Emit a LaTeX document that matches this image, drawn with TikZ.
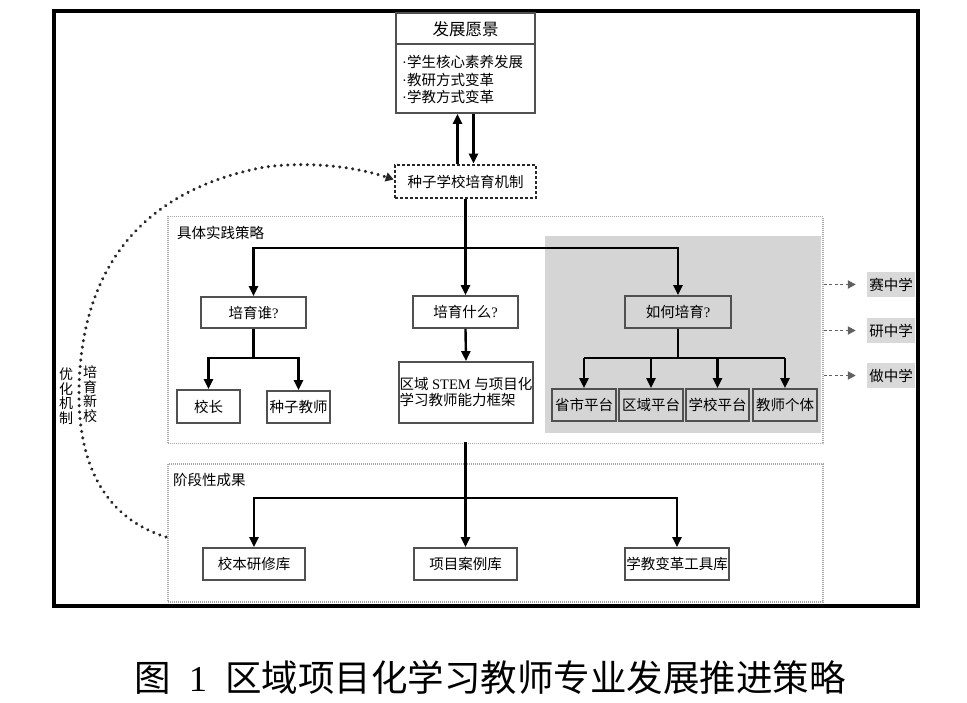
\documentclass[tikz,border=0pt]{standalone}
\usepackage{fontspec}
\setmainfont{Noto Sans CJK SC}
\newfontfamily\lat{Liberation Serif}
\usetikzlibrary{arrows.meta,calc}
\definecolor{boxc}{HTML}{505050}
\definecolor{grayfill}{HTML}{D5D5D5}
\definecolor{secc}{HTML}{A8A8A8}
\definecolor{labfill}{HTML}{D9D9D9}
\begin{document}
\begin{tikzpicture}[x=1pt,y=-1pt,
  box/.style={draw=boxc,line width=1.8pt,rectangle,inner sep=0pt,font=\fontsize{14.5}{16}\selectfont},
  arr/.style={line width=2.4pt,-{Triangle[width=9pt,length=10pt]}},
  plain/.style={line width=2.4pt},
  secbox/.style={draw=secc,line width=1.6pt,dash pattern=on 1pt off 1pt,rectangle,inner sep=0pt},
  seclab/.style={anchor=west,inner sep=0pt,font=\fontsize{14.5}{16}\selectfont},
  lab/.style={fill=labfill,rectangle,inner sep=0pt,minimum width=48pt,minimum height=25pt,font=\fontsize{14.5}{16}\selectfont},
  garr/.style={line width=1.8pt,draw=gray!75!black,dash pattern=on 3pt off 2.5pt,-{Triangle[width=8pt,length=8pt,fill=gray!75!black]}},
  dotline/.style={line width=3.4pt,draw=black!85,dash pattern=on 0.01pt off 6.5pt,line cap=round,-{Triangle[width=9pt,length=8pt,fill=black!85]}},
  vtext/.style={align=center,inner sep=0pt,font=\fontsize{14}{14.5}\selectfont}
]
\useasboundingbox (0,0) rectangle (967,702);
\fill[white] (0,0) rectangle (967,702);
% outer frame
\draw[line width=3.2pt] (54,11) rectangle (918,606);

% top box
\node[box,minimum width=139pt,minimum height=100pt] (top) at (465.5,63) {};
\coordinate (dv) at (0,44);
\draw[boxc,line width=1.8pt] (top.west |- dv) -- (top.east |- dv);
\node[inner sep=0pt,font=\fontsize{16.5}{16}\selectfont] (title) at (465.5,29.5) {发展愿景};
\node[anchor=west,align=left,inner sep=0pt,font=\fontsize{14.5}{17.5}\selectfont] (bul) at (402,79.5)
  {{\lat·}学生核心素养发展\\{\lat·}教研方式变革\\{\lat·}学教方式变革};

% seed box
\node[rectangle,draw=black!85,line width=2.6pt,dash pattern=on 3pt off 2pt,inner sep=0pt,
  minimum width=141pt,minimum height=33pt,font=\fontsize{14.5}{16}\selectfont] (seed) at (465.5,181.5) {种子学校培育机制};
\draw[arr] ([xshift=-8pt]seed.north) -- ([xshift=-8pt]top.south);
\draw[arr] ([xshift=8pt]top.south) -- ([xshift=8pt]seed.north);

% section 1
\node[secbox,minimum width=655pt,minimum height=227pt] (sec1) at (495.5,330) {};
\fill[grayfill] (545,236) rectangle (821,433);
\node[seclab] (sec1lab) at (177,232.5) {具体实践策略};

\node[box,minimum width=105pt,minimum height=31pt] (who) at (253.5,312.5) {培育谁{\lat ?}};
\node[box,minimum width=105pt,minimum height=32pt] (what) at (465.5,312) {培育什么{\lat ?}};
\node[box,minimum width=106pt,minimum height=32pt] (how) at (678,312) {如何培育{\lat ?}};

\coordinate (j1) at (465.5,248);
\draw[arr] (seed.south) -- (what.north);
\draw[arr] (j1) -| (who.north);
\draw[arr] (j1) -| (how.north);

\node[box,minimum width=63pt,minimum height=33pt] (xz) at (208.5,406.5) {校长};
\node[box,minimum width=63pt,minimum height=32pt] (zzjs) at (298.5,407) {种子教师};
\coordinate (j2) at (253.5,358);
\draw[plain] (who.south) -- (j2);
\draw[arr] (j2) -| (xz.north);
\draw[arr] (j2) -| (zzjs.north);

\node[box,minimum width=134pt,minimum height=61pt,align=left] (stem) at (466,392.5)
  {区域{\lat\ STEM\ }与项目化\\学习教师能力框架};
\draw[arr] (what.south) -- (stem.north);

\node[box,minimum width=64pt,minimum height=32pt] (p1) at (584,405) {省市平台};
\node[box,minimum width=64pt,minimum height=32pt] (p2) at (651,405) {区域平台};
\node[box,minimum width=63pt,minimum height=32pt] (p3) at (717.5,405) {学校平台};
\node[box,minimum width=64pt,minimum height=32pt] (p4) at (785,405) {教师个体};
\coordinate (j3) at (678,358);
\draw[plain] (how.south) -- (j3);
\draw[plain] (j3 -| p1.north) -- (j3 -| p4.north);
\foreach \p in {p1,p2,p3,p4} \draw[arr] (j3 -| \p.north) -- (\p.north);

% right labels
\node[lab] (sai) at (891,284.5) {赛中学};
\node[lab] (yan) at (891,330.5) {研中学};
\node[lab] (zuo) at (891,375.5) {做中学};
\foreach \l in {sai,yan,zuo} \draw[garr,shorten >=11pt] (sec1.east |- \l.west) -- (\l.west);

% section 2
\node[secbox,minimum width=655pt,minimum height=138pt] (sec2) at (495.5,533) {};
\node[seclab] (sec2lab) at (173,480) {阶段性成果};
\node[box,minimum width=102pt,minimum height=32pt] (b1) at (254,564) {校本研修库};
\node[box,minimum width=103pt,minimum height=32pt] (b2) at (465.5,564) {项目案例库};
\node[box,minimum width=104pt,minimum height=32pt] (b3) at (677,564) {学教变革工具库};
\coordinate (j4) at (465.5,498);
\draw[arr] ([yshift=2pt]sec1.south -| b2.north) -- (b2.north);
\draw[arr] (j4) -| (b1.north);
\draw[arr] (j4) -| (b3.north);

% dotted feedback curve
\coordinate (cstart) at (166,537);
\draw[dotline] (cstart) .. controls (105,518) and (79,465) .. (79,395)
  .. controls (79,300) and (115,195) .. (265,167)
  .. controls (320,160) and (365,170) .. ([yshift=2pt]seed.west);
\node[vtext] (opt) at (66,396) {优\\化\\机\\制};
\node[vtext] (newsch) at (90,394) {培\\育\\新\\校};

% caption
\node[inner sep=0pt,font=\fontsize{36.5}{36}\selectfont] (cap) at (490,678) {图{\lat\ \ 1\ \ }区域项目化学习教师专业发展推进策略};
\end{tikzpicture}
\end{document}
